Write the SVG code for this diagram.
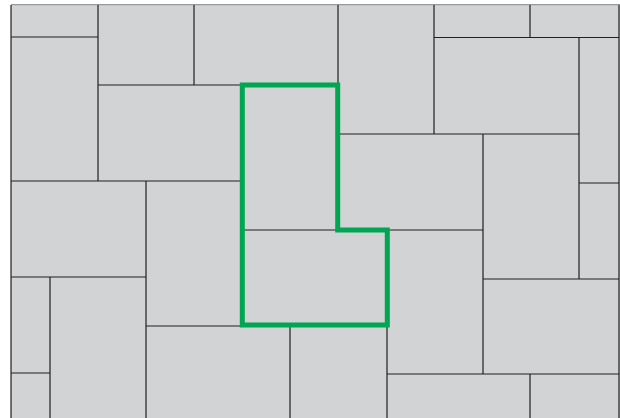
<svg xmlns="http://www.w3.org/2000/svg" width="620" height="418" viewBox="0 0 620 418">
  <style>
    .ln { stroke: #231F20; stroke-width: 1.2; fill: none; }
    .edge { stroke: #9A9A9C; stroke-width: 1.2; fill: none; }
    .hl { stroke: #00A651; stroke-width: 5; fill: none; stroke-linejoin: miter; }
  </style>
  <rect width="620" height="418" fill="#FFFFFF"/>
  <rect id="paving" x="11" y="5" width="609" height="413" fill="#D1D3D4"/>
  <line class="edge" x1="11" y1="4.6" x2="620" y2="4.6"/>
  <g id="joints" class="ln">
    <path d="M11,5 V418 M619,5 V418"/>
    <path d="M98,5 V181 M11,37 H98 M194,5 V85 M98,85 H242"/>
    <path d="M11,181 H242 M146,181 V418 M11,277 H146 M50,277 V418 M11,373 H50"/>
    <path d="M146,326 H242 M290,326 V418 M242,230 H483"/>
    <path d="M338,5 V134 M434,5 V134 M434,37.5 H619 M530,5 V37.5 M579,37.5 V279"/>
    <path d="M338,134 H579 M483,134 V374 M579,183 H619 M483,279 H619"/>
    <path d="M387,325 V418 M387,374 H619 M530,374 V418"/>
  </g>
  <g id="highlight">
    <path class="hl" d="M242.3,85 H337.7 V230 H387.3 V325 H242.3 Z"/>
  </g>
</svg>
